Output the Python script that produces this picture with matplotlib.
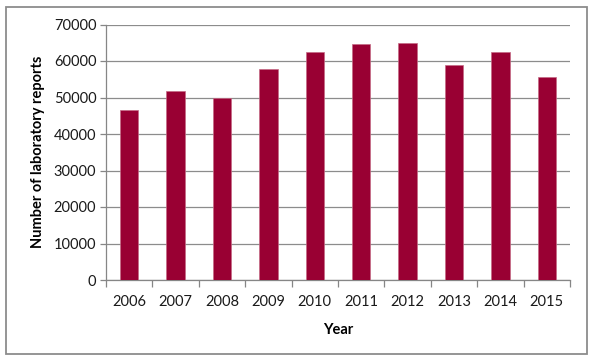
import matplotlib
matplotlib.use("Agg")
import matplotlib.pyplot as plt
from matplotlib.patches import Rectangle

years = ["2006", "2007", "2008", "2009", "2010", "2011", "2012", "2013", "2014", "2015"]
reports = [46700, 51800, 49900, 57800, 62600, 64600, 65000, 59000, 62400, 55600]
yticks = [0, 10000, 20000, 30000, 40000, 50000, 60000, 70000]

plt.rcParams['font.family'] = ['Lato', 'DejaVu Sans']

W, H = 595, 362
fig = plt.figure(figsize=(W / 100, H / 100), dpi=100)
fig.patch.set_facecolor('white')
# outer border
fig.patches.append(Rectangle((6 / W, 8 / H), 581 / W, 347 / H, transform=fig.transFigure,
                             fill=False, edgecolor='#8c8c8c', linewidth=1.3))

ax = fig.add_axes([106 / W, 1 - 280 / H, (570 - 106) / W, (280 - 24.5) / H])
x = list(range(len(years)))
ax.bar(x, reports, width=0.4, color='#990033', edgecolor='#c56a85', linewidth=0.5, zorder=3)
ax.set_xlim(-0.5, len(years) - 0.5)
ax.set_ylim(0, 70000)
ax.set_yticks(yticks)
ax.set_yticklabels([str(v) for v in yticks], fontsize=10.5, color='#1a1a1a')
ax.set_xticks(x)
ax.set_xticklabels(years, fontsize=10.5, color='#1a1a1a')
ax.tick_params(axis='x', length=0, pad=11)
ax.tick_params(axis='y', length=4, color='#868686', width=0.9, pad=3)
# boundary ticks on x axis
ax.set_xticks([i - 0.5 for i in range(len(years) + 1)], minor=True)
ax.tick_params(axis='x', which='minor', length=5, color='#868686', width=0.9, direction='out')

ax.yaxis.grid(True, color='#8c8c8c', linewidth=0.9, zorder=0)
for s in ['top', 'right']:
    ax.spines[s].set_visible(False)
ax.spines['left'].set_color('#868686')
ax.spines['bottom'].set_color('#868686')
ax.spines['left'].set_linewidth(0.9)
ax.spines['bottom'].set_linewidth(0.9)

ax.set_ylabel('Number of laboratory reports', fontsize=10.5, fontweight='bold', labelpad=6)
ax.set_xlabel('Year', fontsize=10.5, fontweight='bold', labelpad=10)

fig.savefig('out.png', dpi=100, facecolor='white')
